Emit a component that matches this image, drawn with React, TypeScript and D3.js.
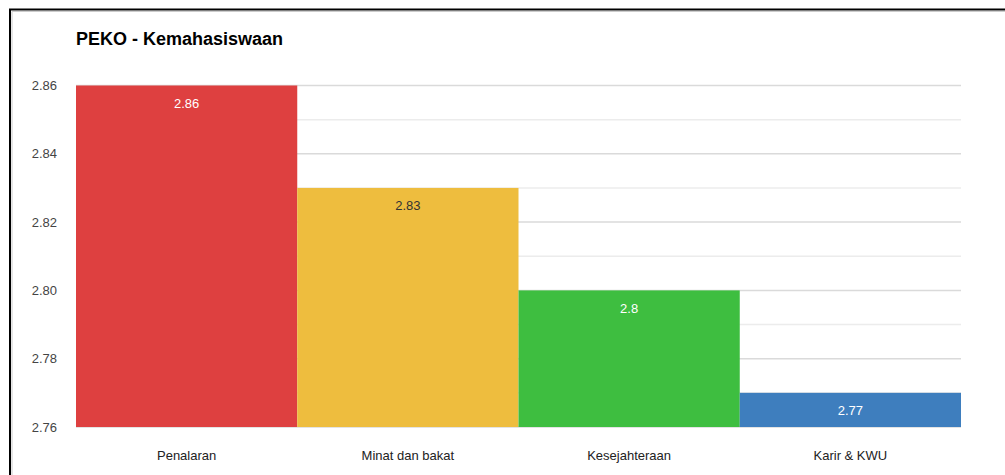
import React from "react";
import * as d3 from "d3";

const title = "PEKO - Kemahasiswaan";
const categories = ["Penalaran", "Minat dan bakat", "Kesejahteraan", "Karir & KWU"];
const values = [2.86, 2.83, 2.8, 2.77];
const valueLabels = ["2.86", "2.83", "2.8", "2.77"];
const barColors = ["#DE4040", "#EEBD3E", "#3EBE40", "#3E7EBE"];
const labelColors = ["#ffffff", "#333333", "#ffffff", "#ffffff"];
const majorTicks = [2.76, 2.78, 2.8, 2.82, 2.84, 2.86];
const minorTicks = [2.77, 2.79, 2.81, 2.83, 2.85];

const W = 1005;
const H = 475;
const left = 76;
const right = 961;
const top = 85.5;
const bottom = 427;

export default function App() {
  const x = d3.scaleBand<string>().domain(categories).range([left, right]).padding(0);
  const y = d3.scaleLinear().domain([2.76, 2.86]).range([bottom, top]);
  const font = "'Liberation Sans', Arial, sans-serif";
  return (
    <svg
      width={W}
      height={H}
      style={{ position: "absolute", left: 0, top: 0, background: "#fff" }}
      fontFamily={font}
    >
      <rect x={0} y={0} width={W} height={H} fill="#fff" />
      {/* frame */}
      <path d={`M10,${H} L10,9.5 L${W},9.5`} fill="none" stroke="#000" strokeWidth={2} />
      <path d={`M12,${H} L12,11.5 L${W},11.5`} fill="none" stroke="#ccc" strokeWidth={1} />
      <text x={76} y={45} fontSize={18} fontWeight="bold" fill="#000">
        {title}
      </text>
      {minorTicks.map((t) => (
        <line key={"mi" + t} x1={left} x2={right} y1={y(t)} y2={y(t)} stroke="#ececec" strokeWidth={1.5} />
      ))}
      {majorTicks.map((t) => (
        <line key={"ma" + t} x1={left} x2={right} y1={y(t)} y2={y(t)} stroke="#dadada" strokeWidth={1.5} />
      ))}
      {majorTicks.map((t) => (
        <text key={"tl" + t} x={57} y={y(t) + 4.5} fontSize={13} fill="#444" textAnchor="end">
          {d3.format(".2f")(t)}
        </text>
      ))}
      {categories.map((c, i) => (
        <g key={c}>
          <rect
            x={x(c)!}
            y={y(values[i])}
            width={x.bandwidth()}
            height={y(2.76) - y(values[i])}
            fill={barColors[i]}
          />
          <text
            x={x(c)! + x.bandwidth() / 2}
            y={y(values[i]) + 22.5}
            fontSize={13}
            fill={labelColors[i]}
            textAnchor="middle"
          >
            {valueLabels[i]}
          </text>
          <text
            x={x(c)! + x.bandwidth() / 2}
            y={460}
            fontSize={13}
            fill="#222"
            textAnchor="middle"
          >
            {c}
          </text>
        </g>
      ))}
    </svg>
  );
}
